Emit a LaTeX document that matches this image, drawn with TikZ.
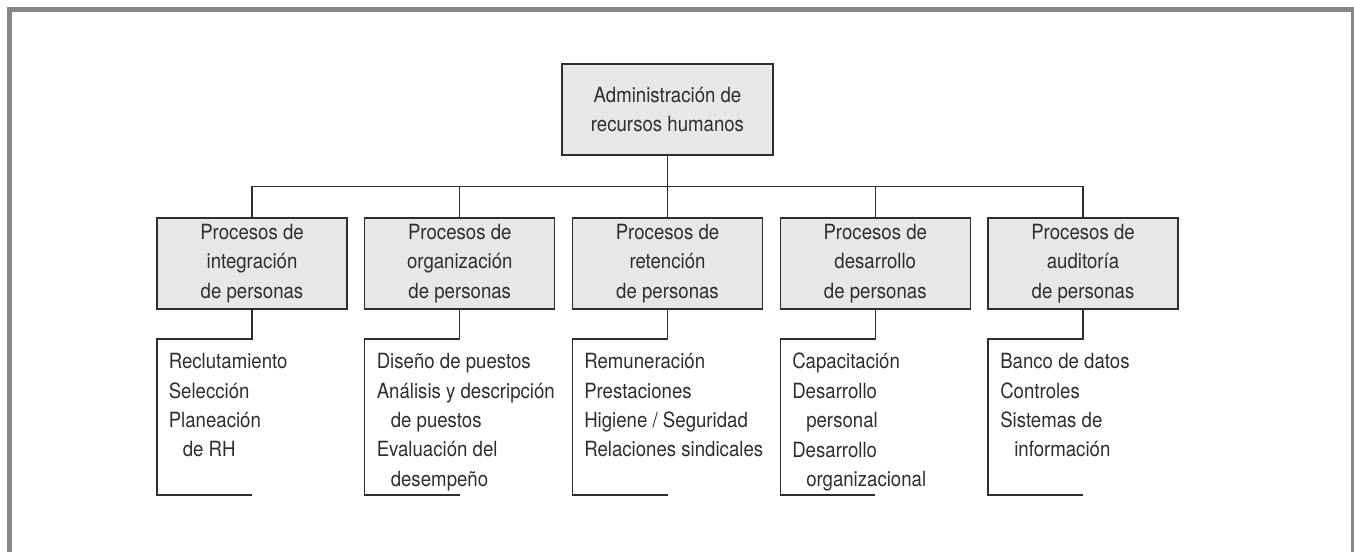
\documentclass[tikz,border=0pt]{standalone}
\usepackage{fontspec}
\setmainfont{TeX Gyre Heros}[FakeStretch=0.89]
\definecolor{framegray}{HTML}{87878A}
\definecolor{boxfill}{HTML}{E6E7E8}
\definecolor{ink}{HTML}{2E2E2E}
\newcommand\ind{\hspace*{10.5pt}}
\tikzset{
  frameline/.style={draw=framegray, line width=3.75pt},
  txt/.style={font=\fontsize{15.7pt}{22.1pt}\selectfont, text=ink},
  procbox/.style={txt, draw=ink, fill=boxfill, line width=1pt, minimum width=142.5pt, minimum height=68.25pt, align=center, inner sep=0pt},
  rootbox/.style={procbox, minimum width=158.25pt},
  conn/.style={draw=ink, line width=1pt},
  listtext/.style={txt, anchor=north west, align=left, inner sep=0pt}
}
\begin{document}
\begin{tikzpicture}[x=0.75pt,y=-0.75pt]
\useasboundingbox (0,0) rectangle (1354,551);
% outer frame
\draw[frameline] (9.5,560) -- (9.5,9.5) -- (1353.2,9.5) -- (1353.2,560);
% root
\node[rootbox] (root) at (667.5,109.5) {Administración de\\recursos humanos};
\coordinate (bus) at (667.5,186.5);
% level 2
\node[procbox] (p1) at (252,263.5) {Procesos de\\integración\\de personas};
\node[procbox] (p2) at (459.75,263.5) {Procesos de\\organización\\de personas};
\node[procbox] (p3) at (667.5,263.5) {Procesos de\\retención\\de personas};
\node[procbox] (p4) at (875.25,263.5) {Procesos de\\desarrollo\\de personas};
\node[procbox] (p5) at (1083,263.5) {Procesos de\\auditoría\\de personas};
% connectors to bus
\draw[conn] (root.south) -- (bus);
\draw[conn] (p1.north) |- (bus) -| (p5.north);
\draw[conn] (p2.north) -- (p2.north |- bus);
\draw[conn] (p3.north) -- (p3.north |- bus);
\draw[conn] (p4.north) -- (p4.north |- bus);
% bracket corners
\coordinate (c1) at (157,339);     \coordinate (d1) at (157,495);
\coordinate (c2) at (364.75,339);  \coordinate (d2) at (364.75,495);
\coordinate (c3) at (572.5,339);   \coordinate (d3) at (572.5,495);
\coordinate (c4) at (780.25,339);  \coordinate (d4) at (780.25,495);
\coordinate (c5) at (988,339);     \coordinate (d5) at (988,495);
\foreach \i in {1,...,5}{
  \draw[conn] (p\i.south) -- (p\i.south |- c\i) -- (c\i) -- (d\i) -- (p\i.south |- d\i);
}
% lists
\node[listtext] (l1) at (168.5,353) {Reclutamiento\\Selección\\Planeación\\\ind de RH};
\node[listtext] (l2) at (376.5,353) {Diseño de puestos\\Análisis y descripción\\\ind de puestos\\Evaluación del\\\ind desempeño};
\node[listtext] (l3) at (584,353) {Remuneración\\Prestaciones\\Higiene / Seguridad\\Relaciones sindicales};
\node[listtext] (l4) at (792,353) {Capacitación\\Desarrollo\\\ind personal\\Desarrollo\\\ind organizacional};
\node[listtext] (l5) at (1000,353) {Banco de datos\\Controles\\Sistemas de\\\ind información};
\end{tikzpicture}
\end{document}
